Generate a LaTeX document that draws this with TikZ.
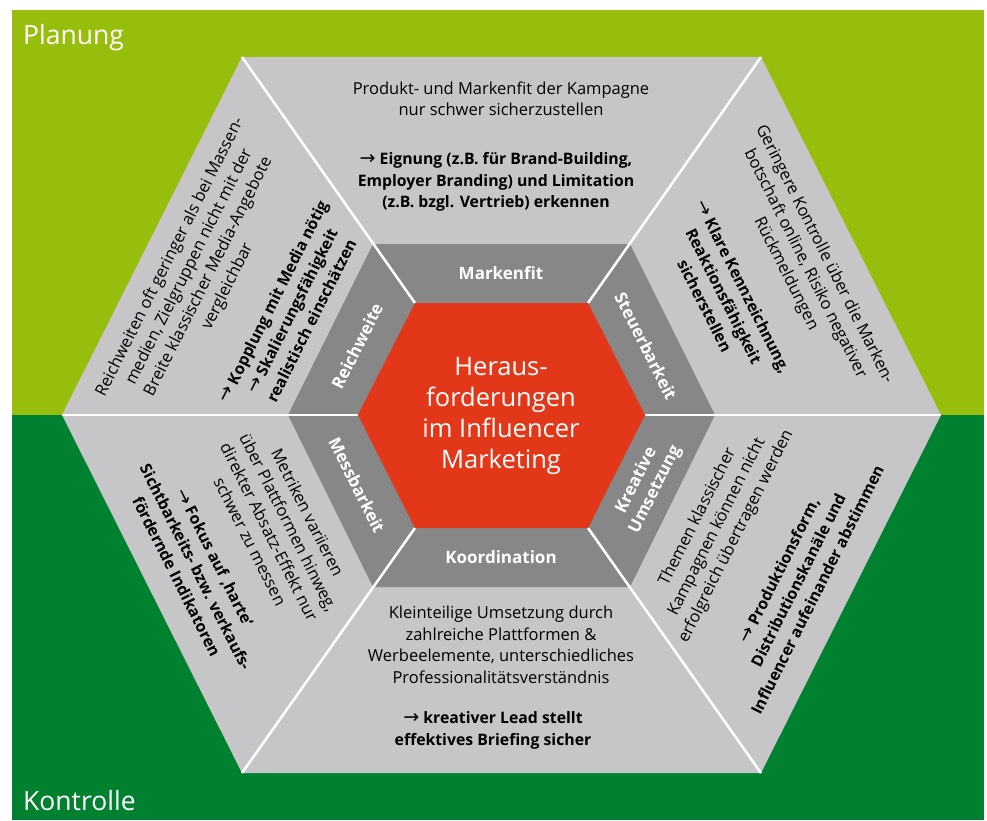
\documentclass[tikz,border=0pt]{standalone}
\usepackage{fontspec}
\setmainfont{Open Sans}
\newfontfamily\arrfont{DejaVu Sans}
\definecolor{lgreen}{HTML}{97BE0D}
\definecolor{dgreen}{HTML}{00812F}
\definecolor{lgray}{HTML}{C6C6C8}
\definecolor{dgray}{HTML}{878787}
\definecolor{hred}{HTML}{E23718}
\newcommand{\myarr}{{\arrfont\mdseries\fontsize{19}{21.5}\selectfont →}\ }
\begin{document}
\begin{tikzpicture}[x=1pt,y=-1pt,
  body/.style={font=\fontsize{16.5}{21.5}\selectfont, align=center, inner sep=0pt, text=black},
  bodyb/.style={body, font=\fontsize{15.8}{21.5}\selectfont\bfseries},
  ringlabel/.style={font=\fontsize{17}{21}\selectfont\bfseries, text=white, align=center, inner sep=0pt},
  sep/.style={white, line width=2.5pt},
  corner/.style={font=\fontsize{26.5}{30}\selectfont, text=white, inner sep=0pt, anchor=base west}]
\useasboundingbox (0,0) rectangle (987,820);
\fill[white] (0,0) rectangle (987,820);
\fill[lgreen] (12,10) rectangle (984,415);
\fill[dgreen] (12,415) rectangle (984,820);
% hexagon corners
\coordinate (B1) at (62,415);  \coordinate (B2) at (242,57);  \coordinate (B3) at (761,57);
\coordinate (B4) at (941,415); \coordinate (B5) at (761,773); \coordinate (B6) at (242,773);
\coordinate (M1) at (288,415); \coordinate (M2) at (373,244); \coordinate (M3) at (630,244);
\coordinate (M4) at (715,415); \coordinate (M5) at (630,587); \coordinate (M6) at (373,587);
\coordinate (R1) at (358,415); \coordinate (R2) at (415,303); \coordinate (R3) at (588,303);
\coordinate (R4) at (645,415); \coordinate (R5) at (588,528); \coordinate (R6) at (415,528);
\fill[lgray] (B1)--(B2)--(B3)--(B4)--(B5)--(B6)--cycle;
\fill[dgray] (M1)--(M2)--(M3)--(M4)--(M5)--(M6)--cycle;
\foreach \i in {1,...,6} {\draw[sep] (R\i) -- (B\i);}
\fill[hred] (R1)--(R2)--(R3)--(R4)--(R5)--(R6)--cycle;
% corner labels
\node[corner] (plan) at (23,44) {Planung};
\node[corner] (kontr) at (23,810) {Kontrolle};
% centre
\node[font=\fontsize{25.5}{31}\selectfont, text=white, align=center, inner sep=0pt] (title) at (501,416)
  {Heraus-\\forderungen\\im Influencer\\Marketing};
% ring labels
\node[ringlabel] (l1) at (501,273.5) {Markenfit};
\node[ringlabel] (l4) at (501,557.5) {Koordination};
\node[ringlabel, rotate=63.3] (l6) at (357,346) {Reichweite};
\node[ringlabel, rotate=-63.3] (l5) at (357,485) {Messbarkeit};
\node[ringlabel, rotate=-63.3] (l2) at (646,346) {Steuerbarkeit};
\node[ringlabel, rotate=63.3] (l3) at (646,485) {Kreative\\Umsetzung};
% top panel
\node[body] (tA) at (501,99) {Produkt- und Markenfit der Kampagne\\nur schwer sicherzustellen};
\node[bodyb] (tB) at (496,182) {\myarr Eignung (z.B. für Brand-Building,\\Employer Branding) und Limitation\\(z.B. bzgl. Vertrieb) erkennen};
% top-left panel
\node[body, rotate=63.3] (tlA) at (199,272) {Reichweiten oft geringer als bei Massen-\\medien, Zielgruppen nicht mit der\\Breite klassischer Media-Angebote\\vergleichbar};
\node[bodyb, rotate=63.3] (tlB) at (292,311) {\myarr Kopplung mit Media nötig\\\myarr Skalierungsfähigkeit\\realistisch einschätzen};
% top-right panel
\node[body, rotate=-63.3] (trA) at (805,264) {Geringere Kontrolle über die Marken-\\botschaft online, Risiko negativer\\Rückmeldungen};
\node[bodyb, rotate=-63.3] (trB) at (724,296) {\myarr Klare Kennzeichnung,\\Reaktionsfähigkeit\\sicherstellen};
% bottom-left panel
\node[body, rotate=-63.3] (blA) at (279,527) {Metriken variieren\\über Plattformen hinweg,\\direkter Absatz-Effekt nur\\schwer zu messen};
\node[bodyb, rotate=-63.3] (blB) at (196,567) {\myarr Fokus auf ‚harte‘\\Sichtbarkeits- bzw. verkaufs-\\fördernde Indikatoren};
% bottom-right panel
\node[body, rotate=63.3] (brA) at (717,527) {Themen klassischer\\Kampagnen können nicht\\erfolgreich übertragen werden};
\node[bodyb, rotate=63.3] (brB) at (798,580) {\myarr Produktionsform,\\Distributionskanäle und\\Influencer aufeinander abstimmen};
% bottom panel
\node[body] (bA) at (501,645) {Kleinteilige Umsetzung durch\\zahlreiche Plattformen \&\\Werbeelemente, unterschiedliches\\Professionalitätsverständnis};
\node[bodyb] (bB) at (493,730.5) {\myarr kreativer Lead stellt\\effektives Briefing sicher};
\end{tikzpicture}
\end{document}
